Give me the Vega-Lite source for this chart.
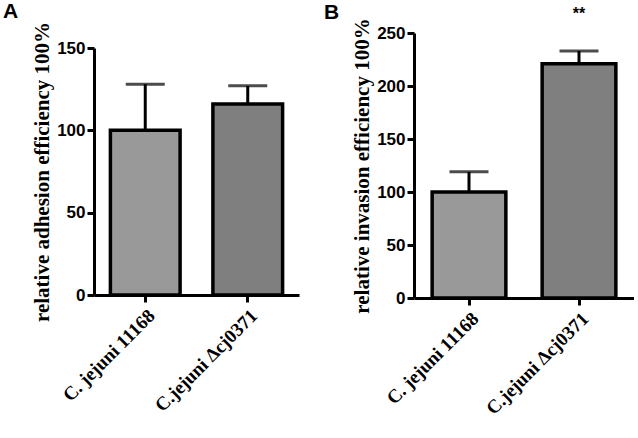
{
  "$schema": "https://vega.github.io/schema/vega-lite/v6.json",
  "padding": {"left": 3, "top": 0, "right": 0, "bottom": 0},
  "background": "white",
  "data": {"values": [
    {"panel": "A", "strain": "C. jejuni 11168", "mean": 100, "upper": 128, "sig": ""},
    {"panel": "A", "strain": "C.jejuni Δcj0371", "mean": 116, "upper": 127, "sig": ""},
    {"panel": "B", "strain": "C. jejuni 11168", "mean": 100, "upper": 119, "sig": ""},
    {"panel": "B", "strain": "C.jejuni Δcj0371", "mean": 221, "upper": 233, "sig": "**"}
  ]},
  "spacing": 25,
  "config": {
    "view": {"stroke": null},
    "axis": {
      "domainColor": "black", "domainWidth": 3, "tickColor": "black", "tickWidth": 3, "tickSize": 7,
      "labelColor": "black", "titleColor": "black", "grid": false
    },
    "title": {"font": "Liberation Sans", "fontSize": 21, "fontWeight": "bold", "color": "black", "anchor": "start", "frame": "group"}
  },
  "hconcat": [
    {
      "title": {"text": "A", "dx": -91, "offset": 0},
      "width": 205, "height": 262,
      "transform": [{"filter": "datum.panel === 'A'"}],
      "encoding": {
        "x": {"field": "strain", "type": "nominal", "sort": null,
          "scale": {"paddingInner": 0.32, "paddingOuter": 0.16},
          "axis": {"title": null, "labelAngle": -45, "labelFont": "Liberation Serif", "labelFontWeight": "bold", "labelFontSize": 19, "labelPadding": 4}}
      },
      "layer": [
        {"mark": {"type": "rule", "color": "black", "strokeWidth": 3},
         "encoding": {"y": {"field": "mean", "type": "quantitative"}, "y2": {"field": "upper"}}},
        {"mark": {"type": "tick", "color": "black", "thickness": 3, "size": 39},
         "encoding": {"y": {"field": "upper", "type": "quantitative"}}},
        {"mark": {"type": "bar", "stroke": "black", "strokeWidth": 3.5},
         "encoding": {
           "y": {"field": "mean", "type": "quantitative",
             "scale": {"domain": [0, 150], "nice": false, "range": [262, 15]},
             "axis": {"title": "relative adhesion efficiency 100%", "values": [0, 50, 100, 150],
               "labelFont": "Liberation Sans", "labelFontWeight": "bold", "labelFontSize": 17, "labelPadding": 2,
               "titleFont": "Liberation Serif", "titleFontWeight": "bold", "titleFontSize": 21, "titlePadding": 4}},
           "fill": {"field": "strain", "type": "nominal", "sort": null, "legend": null,
             "scale": {"range": ["#999999", "#7f7f7f"]}}
         }}
      ]
    },
    {
      "title": {"text": "B", "dx": -90, "offset": 0, "dy": 17},
      "width": 220, "height": 265,
      "transform": [{"filter": "datum.panel === 'B'"}],
      "encoding": {
        "x": {"field": "strain", "type": "nominal", "sort": null,
          "scale": {"paddingInner": 0.33, "paddingOuter": 0.165},
          "axis": {"title": null, "labelAngle": -45, "labelFont": "Liberation Serif", "labelFontWeight": "bold", "labelFontSize": 19, "labelPadding": 4}}
      },
      "layer": [
        {"mark": {"type": "rule", "color": "black", "strokeWidth": 3},
         "encoding": {"y": {"field": "mean", "type": "quantitative"}, "y2": {"field": "upper"}}},
        {"mark": {"type": "tick", "color": "black", "thickness": 3, "size": 39},
         "encoding": {"y": {"field": "upper", "type": "quantitative"}}},
        {"mark": {"type": "bar", "stroke": "black", "strokeWidth": 3.5},
         "encoding": {
           "y": {"field": "mean", "type": "quantitative",
             "scale": {"domain": [0, 250], "nice": false},
             "axis": {"title": "relative invasion efficiency 100%", "values": [0, 50, 100, 150, 200, 250],
               "labelFont": "Liberation Sans", "labelFontWeight": "bold", "labelFontSize": 17, "labelPadding": 2,
               "titleFont": "Liberation Serif", "titleFontWeight": "bold", "titleFontSize": 21, "titlePadding": 4}},
           "fill": {"field": "strain", "type": "nominal", "sort": null, "legend": null,
             "scale": {"range": ["#999999", "#7f7f7f"]}}
         }},
        {"mark": {"type": "text", "font": "Liberation Sans", "fontSize": 16, "fontWeight": "bold", "color": "black", "baseline": "alphabetic", "dy": -32, "clip": false},
         "encoding": {"y": {"field": "upper", "type": "quantitative"}, "text": {"field": "sig"}}}
      ]
    }
  ]
}
